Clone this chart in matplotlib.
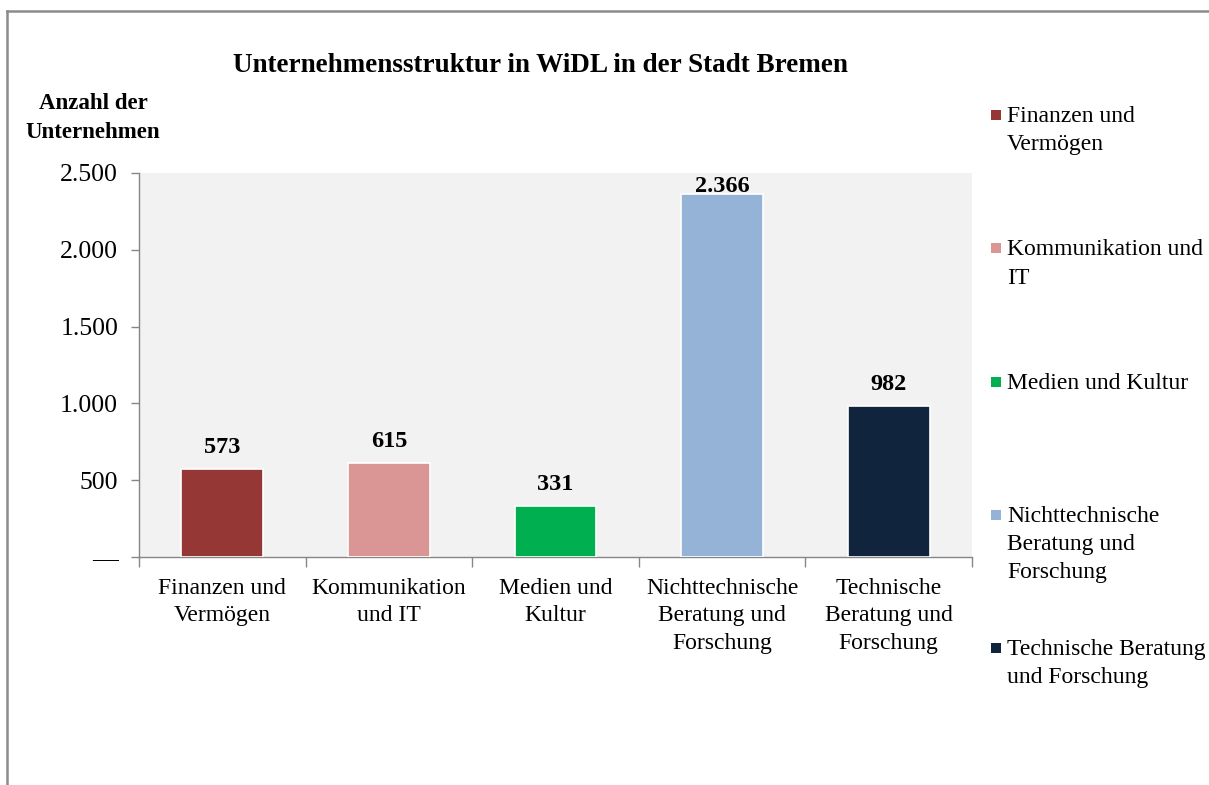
import matplotlib
matplotlib.use('Agg')
from matplotlib import pyplot as plt
from matplotlib.patches import Rectangle
from matplotlib.lines import Line2D

categories = ['Finanzen und\nVermögen', 'Kommunikation\nund IT', 'Medien und\nKultur',
              'Nichttechnische\nBeratung und\nForschung', 'Technische\nBeratung und\nForschung']
legend_labels = ['Finanzen und\nVermögen', 'Kommunikation und\nIT', 'Medien und Kultur',
                 'Nichttechnische\nBeratung und\nForschung', 'Technische Beratung\nund Forschung']
values = [573, 615, 331, 2366, 982]
value_labels = ['573', '615', '331', '2.366', '982']
colors = ['#953735', '#D99694', '#00B050', '#95B3D7', '#10243E']
yticks = [0, 500, 1000, 1500, 2000, 2500]
ytick_labels = ['—', '500', '1.000', '1.500', '2.000', '2.500']

plt.rcParams['font.family'] = ['Liberation Serif', 'DejaVu Serif']

W, H = 1209, 785
fig = plt.figure(figsize=(W / 100, H / 100), dpi=100)

def fx(px):
    return px / W

def fy(py):
    return 1 - py / H

ax = fig.add_axes([fx(139), fy(557), fx(972 - 139), (557 - 173) / H])
ax.set_facecolor('#F2F2F2')

x = list(range(len(values)))
ax.bar(x, values, width=0.49, color=colors, edgecolor='white', linewidth=1.2, zorder=3)

ax.set_xlim(-0.5, len(values) - 0.5)
ax.set_ylim(0, 2500)
ax.set_yticks(yticks)
ax.set_yticklabels(ytick_labels, fontsize=18.5)
ax.set_xticks(x)
ax.set_xticklabels(categories, fontsize=17, linespacing=1.4)
ax.tick_params(axis='x', length=0, pad=15)
ax.tick_params(axis='y', length=6, width=1, color='#868686', pad=9)
# category boundary ticks
ax.set_xticks([i - 0.5 for i in range(len(values) + 1)], minor=True)
ax.tick_params(axis='x', which='minor', length=7, width=1, color='#868686')

for s in ['top', 'right']:
    ax.spines[s].set_visible(False)
for s in ['left', 'bottom']:
    ax.spines[s].set_color('#868686')
    ax.spines[s].set_linewidth(1)

for xi, v, lab in zip(x, values, value_labels):
    y = min(v + 138, 2415)
    ax.text(xi, y, lab, ha='center', va='center', fontsize=17.5, fontweight='bold', zorder=4)

fig.text(fx(540), fy(65), 'Unternehmensstruktur in WiDL in der Stadt Bremen',
         ha='center', va='center', fontsize=19.5, fontweight='bold')
fig.text(fx(93), fy(118), 'Anzahl der\nUnternehmen', ha='center', va='center',
         fontsize=16.5, fontweight='bold', linespacing=1.45)

# legend, entries spaced evenly like the original
for i, (lab, c) in enumerate(zip(legend_labels, colors)):
    ytop = 115 + 133.3 * i
    fig.add_artist(Rectangle((fx(991), fy(ytop + 5)), fx(10), 10 / H,
                             facecolor=c, edgecolor='none', transform=fig.transFigure))
    fig.text(fx(1007), fy(ytop - 9), lab, ha='left', va='top', fontsize=17,
             linespacing=1.45, transform=fig.transFigure)

# outer frame
fig.add_artist(Line2D([fx(7), fx(7)], [fy(11), 0], color='#8C8C8C', lw=1.8,
                      transform=fig.transFigure))
fig.add_artist(Line2D([fx(7), 1], [fy(11), fy(11)], color='#8C8C8C', lw=1.8,
                      transform=fig.transFigure))

fig.savefig('out.png', dpi=100)
